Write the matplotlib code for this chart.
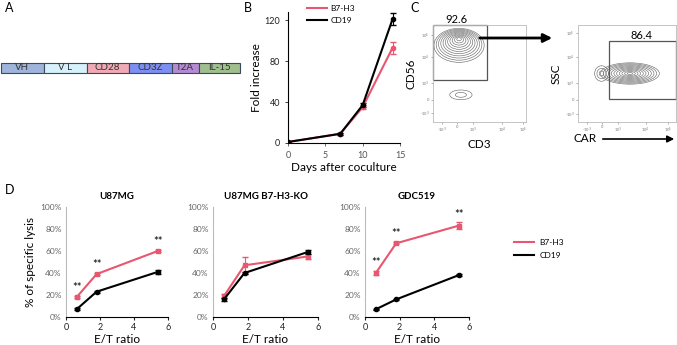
import matplotlib
matplotlib.use("Agg")
import matplotlib.pyplot as plt
from matplotlib.patches import Rectangle, Ellipse, FancyArrowPatch
from matplotlib.lines import Line2D
import numpy as np

plt.rcParams['font.family'] = ['Lato', 'DejaVu Sans']

# ---------------- data ----------------
construct_parts = ["VH", "V L", "CD28", "CD3Z", "T2A", "IL-15"]
construct_widths = [43, 43, 42, 43, 27, 41]
construct_colors = ["#9fb4da", "#d6f1fb", "#f0a9b5", "#7d8ff0", "#b48bd2", "#a0bf8e"]

days = [0, 7, 10, 14]
fold_b7h3 = [1, 9, 35, 93]
fold_b7h3_err = [0, 1, 2, 6]
fold_cd19 = [1, 9, 37, 121]
fold_cd19_err = [0, 1, 2, 6]

gate_left_pct = "92.6"
gate_right_pct = "86.4"
flow_xticklabels = ["-10$^3$", "0", "10$^3$", "10$^4$", "10$^5$"]
flow_yticklabels = ["-10$^3$", "0", "10$^3$", "10$^4$", "10$^5$"]

et_ratio = [0.625, 1.8, 5.4]
lysis_titles = ["U87MG", "U87MG B7-H3-KO", "GDC519"]
lysis_b7h3 = [[0.18, 0.39, 0.60], [0.19, 0.47, 0.55], [0.40, 0.67, 0.83]]
lysis_b7h3_err = [[0.01, 0.01, 0.01], [0.02, 0.08, 0.02], [0.02, 0.01, 0.03]]
lysis_cd19 = [[0.07, 0.23, 0.41], [0.16, 0.40, 0.59], [0.07, 0.16, 0.38]]
lysis_cd19_err = [[0.01, 0.01, 0.02], [0.01, 0.01, 0.02], [0.005, 0.005, 0.01]]
sig_marks = [[True, True, True], [False, False, False], [True, True, True]]

PINK = "#e8566f"
BLACK = "#000000"

W, H = 677, 345
fig = plt.figure(figsize=(W / 100, H / 100), dpi=100)


def rect(x0, y0, x1, y1):
    """pixel box (top-left origin) to figure fraction"""
    return [x0 / W, 1 - y1 / H, (x1 - x0) / W, (y1 - y0) / H]


def ftext(x, y, s, **kw):
    fig.text(x / W, 1 - y / H, s, **kw)


# ---------------- Panel A ----------------
ftext(5, 8, "A", fontsize=9, va="center")
axA = fig.add_axes(rect(0, 55, 242, 80))
axA.set_xlim(0, 242)
axA.set_ylim(0, 1)
axA.axis("off")
x = 0.5
for name, w, c in zip(construct_parts, construct_widths, construct_colors):
    axA.add_patch(Rectangle((x, 0.28), w, 0.4, facecolor=c, edgecolor="#3a4a5a", lw=0.8))
    axA.text(x + w / 2, 0.48, name, ha="center", va="center", fontsize=7, color="#333333")
    x += w

# ---------------- Panel B ----------------
ftext(244, 8, "B", fontsize=9, va="center")
axB = fig.add_axes(rect(288, 12, 400, 143))
axB.errorbar(days, fold_b7h3, yerr=fold_b7h3_err, color=PINK, marker="o", ms=3,
             lw=1.5, capsize=2, elinewidth=0.8, label="B7-H3")
axB.errorbar(days, fold_cd19, yerr=fold_cd19_err, color=BLACK, marker="o", ms=3,
             lw=1.5, capsize=2, elinewidth=0.8, label="CD19")
axB.set_xlim(0, 15)
axB.set_ylim(0, 128)
axB.set_xticks([0, 5, 10, 15])
axB.set_yticks([0, 40, 80, 120])
for s in ["top", "right"]:
    axB.spines[s].set_visible(False)
axB.tick_params(labelsize=6.5, length=2, width=0.6, colors="#222222")
axB.tick_params(axis="x", colors="#555555")
axB.set_xlabel("Days after coculture", fontsize=8.5, labelpad=2)
axB.set_ylabel("Fold increase", fontsize=8.5, labelpad=2)
hB = [Line2D([], [], color=PINK, lw=1.5), Line2D([], [], color=BLACK, lw=1.5)]
axB.legend(hB, ["B7-H3", "CD19"], loc="upper left", bbox_to_anchor=(299 / W, 1 - (-3) / H),
           bbox_transform=fig.transFigure, frameon=False, fontsize=6,
           handlelength=2.4, handletextpad=0.5, labelspacing=0.6)

# ---------------- Panel C ----------------
ftext(410, 8, "C", fontsize=9, va="center")

flow_left_blobs = [  # (cx, cy, half_w, half_h, n_rings, upward drift of inner rings)
    (0.28, 0.79, 0.27, 0.175, 11, 0.4),
    (0.30, 0.28, 0.12, 0.05, 2, 0.0),
]
flow_right_blobs = [
    (0.53, 0.50, 0.30, 0.11, 11, 0.0),
    (0.24, 0.50, 0.07, 0.08, 3, 0.0),
]
flow_left_tickx = [0.10, 0.26, 0.43, 0.74, 0.97]
flow_left_ticky = [0.09, 0.23, 0.40, 0.67, 0.90]
flow_right_tickx = [0.09, 0.245, 0.41, 0.69, 0.92]
flow_right_ticky = [0.08, 0.23, 0.40, 0.67, 0.92]


def flow_axes(box, blobs, tickx, ticky, gate, pct, pct_xy, xlabel, ylabel):
    ax = fig.add_axes(rect(*box))
    ax.set_xlim(0, 1)
    ax.set_ylim(0, 1)
    for s in ax.spines.values():
        s.set_color("#bbbbbb")
        s.set_linewidth(0.6)
    for cx, cy, hw, hh, n, drift in blobs:
        for k in range(n):
            f = 1 - k / n
            shift = (1 - f) * drift * hh
            ax.add_patch(Ellipse((cx, cy + shift), 2 * hw * f, 2 * hh * f,
                                 fill=False, ec="#6e6e6e", lw=0.45))
    ax.set_xticks(tickx)
    ax.set_xticklabels(flow_xticklabels)
    ax.set_yticks(ticky)
    ax.set_yticklabels(flow_yticklabels)
    ax.tick_params(labelsize=3, length=1.5, width=0.4, colors="#777777", pad=1)
    gx0, gy0, gx1, gy1 = gate
    ax.add_patch(Rectangle((gx0, gy0), gx1 - gx0, gy1 - gy0, fill=False, ec="#555555", lw=0.9,
                           clip_on=False))
    ax.text(pct_xy[0], pct_xy[1], pct, transform=ax.transAxes, fontsize=8, ha="center",
            va="bottom")
    ax.set_xlabel(xlabel, fontsize=8.5, labelpad=3)
    ax.set_ylabel(ylabel, fontsize=8.5, labelpad=2)
    return ax


axC1 = flow_axes((433, 25, 526, 122), flow_left_blobs, flow_left_tickx, flow_left_ticky,
                 (0.0, 0.43, 0.58, 1.0), gate_left_pct, (0.25, 1.0), "CD3", "CD56")
axC2 = flow_axes((578, 25, 676, 122), flow_right_blobs, flow_right_tickx, flow_right_ticky,
                 (0.32, 0.24, 1.0, 0.835), gate_right_pct, (0.65, 0.84), "", "SSC")
ftext(585, 139, "CAR", fontsize=8.5, ha="center", va="center")
fig.add_artist(FancyArrowPatch((477 / W, 1 - 38 / H), (555 / W, 1 - 38 / H),
                               transform=fig.transFigure, arrowstyle="-|>,head_length=5,head_width=2.5",
                               color="black", lw=2))
fig.add_artist(FancyArrowPatch((600 / W, 1 - 139 / H), (677 / W, 1 - 139 / H),
                               transform=fig.transFigure, arrowstyle="-|>,head_length=4,head_width=2",
                               color="black", lw=1.2))

# ---------------- Panel D ----------------
ftext(5, 190, "D", fontsize=9, va="center")
boxes = [(66, 207, 168, 317), (213, 207, 318, 317), (365, 207, 469, 317)]
for i, box in enumerate(boxes):
    ax = fig.add_axes(rect(*box))
    ax.errorbar(et_ratio, lysis_b7h3[i], yerr=lysis_b7h3_err[i], color=PINK, marker="s", ms=3,
                lw=1.5, capsize=2, elinewidth=0.8)
    ax.errorbar(et_ratio, lysis_cd19[i], yerr=lysis_cd19_err[i], color=BLACK, marker="o", ms=3,
                lw=1.5, capsize=2, elinewidth=0.8)
    for xv, yv, e, s in zip(et_ratio, lysis_b7h3[i], lysis_b7h3_err[i], sig_marks[i]):
        if s:
            ax.text(xv, yv + e + 0.025, "**", ha="center", va="bottom", fontsize=8)
    ax.set_xlim(0, 6)
    ax.set_ylim(0, 1)
    ax.set_xticks([0, 2, 4, 6])
    ax.set_yticks(np.arange(0, 1.01, 0.2))
    ax.set_yticklabels([f"{int(round(v * 100))}%" for v in np.arange(0, 1.01, 0.2)])
    for s in ["top", "right"]:
        ax.spines[s].set_visible(False)
    ax.spines["left"].set_color("#bbbbbb")
    ax.tick_params(axis="y", labelsize=6, length=0, colors="#666666", pad=3)
    ax.tick_params(axis="x", labelsize=6.5, length=2.5, width=0.8, colors="#222222", pad=2)
    ax.set_xlabel("E/T ratio", fontsize=8.5, labelpad=1)
    ax.set_title(lysis_titles[i], fontsize=7, fontweight="bold", pad=6)
    if i == 0:
        ax.set_ylabel("% of specific lysis", fontsize=8.5, labelpad=3)
    if i == 2:
        hD = [Line2D([], [], color=PINK, lw=1.5), Line2D([], [], color=BLACK, lw=1.5)]
        ax.legend(hD, ["B7-H3", "CD19"], loc="center left",
                  bbox_to_anchor=(506 / W, 1 - 249 / H), bbox_transform=fig.transFigure,
                  frameon=False, fontsize=6, handlelength=2.4, handletextpad=0.7,
                  labelspacing=0.8)

fig.savefig("out.png", dpi=100)
